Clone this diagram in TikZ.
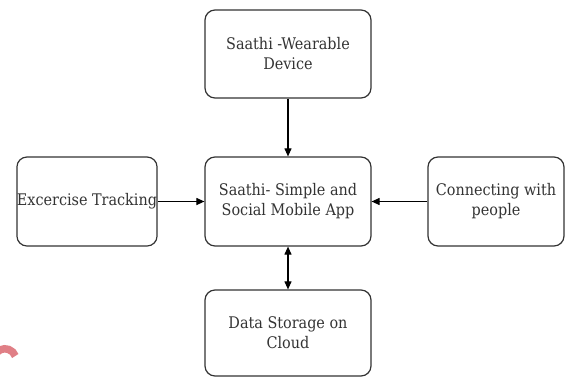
\documentclass[tikz,border=0pt]{standalone}
\usepackage{fontspec}
\setmainfont{DejaVu Serif Condensed}
\usetikzlibrary{arrows.meta}
\definecolor{txt}{HTML}{333333}
\definecolor{pinkmark}{HTML}{E07F86}
\begin{document}
\begin{tikzpicture}[x=1pt,y=-1pt,
  box/.style={draw=black!80, line width=1.2pt, rounded corners=10pt, inner sep=0pt, align=center, text=txt, font=\fontsize{16}{20}\selectfont},
  conn/.style={line width=1.1pt, -{Triangle[length=8pt,width=7pt]}},
  conn2/.style={line width=1.1pt, {Triangle[length=8pt,width=7pt]}-{Triangle[length=8pt,width=7pt]}}]
\useasboundingbox (0,0) rectangle (566,376);
\node[box, minimum width=166pt, minimum height=88pt] (dev) at (288,54) {Saathi -Wearable\\Device};
\node[box, minimum width=166pt, minimum height=89pt] (app) at (288,201.5) {Saathi- Simple and\\Social Mobile App};
\node[box, minimum width=140pt, minimum height=89pt] (ex) at (87,201.5) {Excercise Tracking};
\node[box, minimum width=136pt, minimum height=89pt] (con) at (496,201.5) {Connecting with\\people};
\node[box, minimum width=166pt, minimum height=86pt] (data) at (288,333) {Data Storage on\\Cloud};
\draw[conn] (dev) -- (app);
\draw[conn] (ex) -- (app);
\draw[conn] (con) -- (app);
\draw[conn2] (app) -- (data);
\draw[pinkmark, line width=7.5pt] (-5.4,356) arc[start angle=200, end angle=340, radius=11];
\end{tikzpicture}
\end{document}
